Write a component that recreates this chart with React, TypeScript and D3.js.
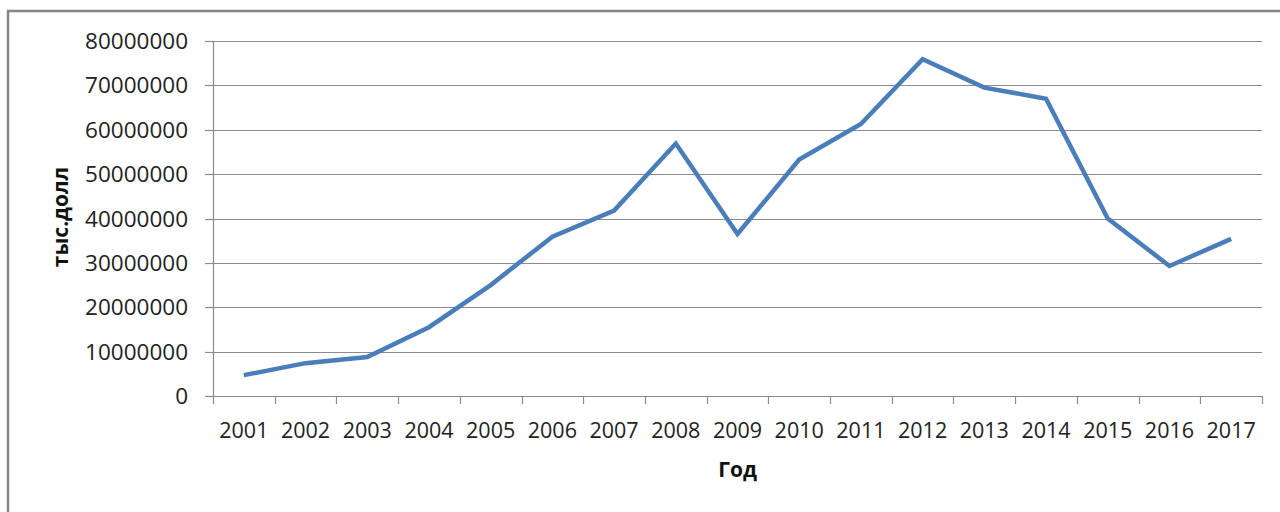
import React, { useEffect } from "react";
import * as d3 from "d3";

const years = ["2001","2002","2003","2004","2005","2006","2007","2008","2009","2010","2011","2012","2013","2014","2015","2016","2017"];
const values = [4700000, 7400000, 8800000, 15500000, 25000000, 35900000, 41800000, 56900000, 36500000, 53300000, 61300000, 75900000, 69500000, 67000000, 40000000, 29300000, 35400000];
const yTicks = [0, 10000000, 20000000, 30000000, 40000000, 50000000, 60000000, 70000000, 80000000];
const yTitle = "тыс.долл";
const xTitle = "Год";

const W = 1280, H = 512;
const left = 213, right = 1262, top = 41, bottom = 396;
const FONT = "'Open Sans', 'Noto Sans', sans-serif";

export default function App() {
  useEffect(() => {
    document.body.style.margin = "0";
  }, []);
  const x = d3.scaleBand<string>().domain(years).range([left, right]).padding(0);
  const y = d3.scaleLinear().domain([0, 80000000]).range([bottom, top]);
  const line = d3.line<number>()
    .x((_, i) => (x(years[i]) as number) + x.bandwidth() / 2)
    .y((d) => y(d));
  const boundaries = years.map((yr) => x(yr) as number).concat([right]);
  return (
    <svg width={W} height={H} style={{ display: "block", background: "#fff" }}>
      <rect x={8} y={11} width={1400} height={700} fill="#fff" stroke="#868686" strokeWidth={2.5} />
      {yTicks.map((t) => (
        <g key={t}>
          <line x1={left} x2={right} y1={Math.round(y(t)) + 0.5} y2={Math.round(y(t)) + 0.5} stroke="#8c8c8c" strokeWidth={1.2} />
          <line x1={left - 8} x2={left} y1={Math.round(y(t)) + 0.5} y2={Math.round(y(t)) + 0.5} stroke="#8c8c8c" strokeWidth={1.2} />
          <text x={188} y={y(t)} dy="0.36em" textAnchor="end" fontFamily={FONT} fontSize={22.5} fill="#222">{t}</text>
        </g>
      ))}
      <line x1={left + 0.5} x2={left + 0.5} y1={top} y2={bottom} stroke="#8c8c8c" strokeWidth={1.2} />
      {boundaries.map((b, i) => (
        <line key={i} x1={Math.round(b) + 0.5} x2={Math.round(b) + 0.5} y1={bottom} y2={bottom + 8} stroke="#8c8c8c" strokeWidth={1.2} />
      ))}
      {years.map((yr) => (
        <text key={yr} x={(x(yr) as number) + x.bandwidth() / 2} y={438} textAnchor="middle" fontFamily={FONT} fontSize={21.5} fill="#222">{yr}</text>
      ))}
      <path d={line(values) || ""} fill="none" stroke="#4a7ebb" strokeWidth={4.5} strokeLinejoin="miter" strokeLinecap="butt" />
      <text x={737.5} y={477} textAnchor="middle" fontFamily={FONT} fontSize={21} fontWeight="bold" fill="#111">{xTitle}</text>
      <text transform={`translate(68,217) rotate(-90)`} textAnchor="middle" fontFamily={FONT} fontSize={21} fontWeight="bold" fill="#111">{yTitle}</text>
    </svg>
  );
}
